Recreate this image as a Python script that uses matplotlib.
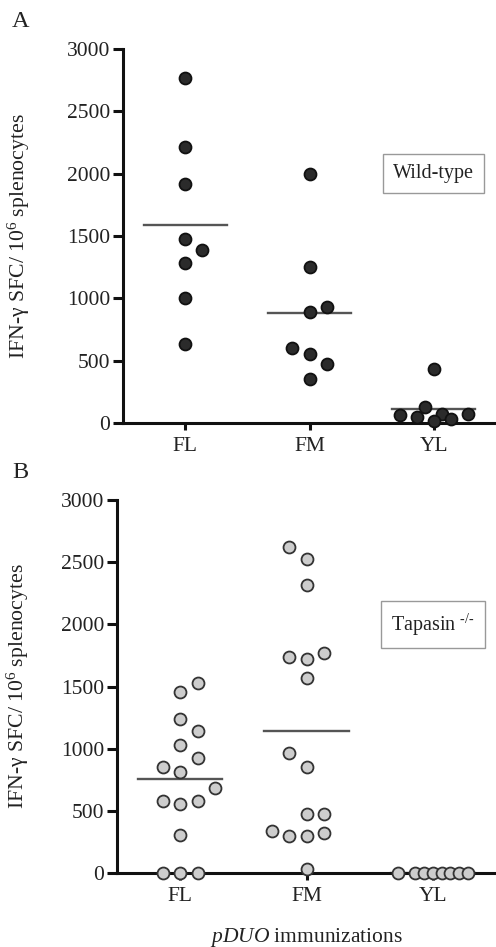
import numpy as np
import matplotlib
matplotlib.use('Agg')
import matplotlib.pyplot as plt

plt.rcParams['font.family'] = ['Liberation Serif', 'DejaVu Serif']
plt.rcParams['mathtext.fontset'] = 'custom'
plt.rcParams['mathtext.rm'] = 'Liberation Serif'
plt.rcParams['mathtext.it'] = 'Liberation Serif:italic'

##############
# data (SFC per 10^6 splenocytes)
##############

groups = ['FL', 'FM', 'YL']

wt_fl = [2770, 2210, 1914, 1476, 1387, 1280, 1000, 631]
wt_fm = [2000, 1248, 930, 888, 599, 553, 470, 355]
wt_yl = [436, 126, 72, 70, 64, 45, 32, 13]
wt_means = [1585, 885, 110]

tap_fl = [1527, 1460, 1237, 1146, 1028, 924, 852, 817, 683, 584, 581, 554, 308, 0, 0, 0]
tap_fm = [2620, 2523, 2319, 1768, 1741, 1722, 1572, 969, 857, 477, 477, 340, 321, 302, 302, 32]
tap_yl = [0, 0, 0, 0, 0, 0, 0, 0]
tap_means = [755, 1146, 0]

# horizontal scatter slots (column layout of the dot plot), same order as values
wt_slots = [[0, 0, 0, 0, 2, 0, 0, 0],
            [0, 0, 2, 0, -2, 0, 2, 0],
            [0, -1, 1, 4, -4, -2, 2, 0]]
tap_slots = [[2, 0, 0, 2, 0, 2, -2, 0, 4, -2, 2, 0, 0, -2, 0, 2],
             [-2, 0, 0, 2, -2, 0, 0, -2, 0, 0, 2, -4, 2, -2, 0, 0],
             [-4, -2, -1, 0, 1, 2, 3, 4]]

SLOT = 0.069
HALF = 0.335
FS = 15.5

##############
##############

def dot_panel(fig, rect, series, slots, means, face, edge, boxtext):
    ax = fig.add_axes(rect)
    for i, (vals, sl) in enumerate(zip(series, slots)):
        xs = (i + 1) + np.array(sl) * SLOT
        ax.plot(xs, vals, 'o', ms=8.6, mfc=face, mec=edge, mew=1.3,
                clip_on=False, zorder=3)
        ax.plot([i + 1 - HALF, i + 1 + HALF], [means[i], means[i]],
                color='#555555', lw=1.7, zorder=2, clip_on=False)

    ax.set_xlim(0.5, 3.5)
    ax.set_ylim(0, 3000)
    ax.set_yticks(np.arange(0, 3001, 500))
    ax.set_xticks([1, 2, 3])
    ax.set_xticklabels(groups)
    for s in ['top', 'right']:
        ax.spines[s].set_visible(False)
    for s in ['left', 'bottom']:
        ax.spines[s].set_linewidth(2.2)
        ax.spines[s].set_color('#111111')
    ax.tick_params(axis='y', length=7, width=2.2, pad=2, labelsize=FS,
                   colors='#111111', labelcolor='#222222')
    ax.tick_params(axis='x', length=5, width=2.2, pad=5, labelsize=FS,
                   colors='#111111', labelcolor='#222222')
    ax.set_ylabel('IFN-$\\mathregular{\\gamma}$ SFC/ 10$^{\\mathregular{6}}$ splenocytes',
                  fontsize=15.7, color='#222222')
    ax.text(3.0, 2000, boxtext, ha='center', va='center', fontsize=14.5, color='#222222',
            bbox=dict(boxstyle='square,pad=0.5', fc='white', ec='#999999', lw=1.0))
    return ax


figure = plt.figure(figsize=(4.96, 9.47), dpi=100)

axA = dot_panel(figure, [123 / 496, 1 - 423 / 947, 373 / 496, 374 / 947],
                [wt_fl, wt_fm, wt_yl], wt_slots, wt_means,
                '#2b2b2b', '#111111', 'Wild-type')
axA.yaxis.set_label_coords(-0.245, 0.5)

axB = dot_panel(figure, [117 / 496, 1 - 873.3 / 947, 379 / 496, 373.3 / 947],
                [tap_fl, tap_fm, tap_yl], tap_slots, tap_means,
                '#cdcdcd', '#333333', 'Tapasin $^{\\text{-/-}}$')
axB.yaxis.set_label_coords(-0.226, 0.5)
axB.set_xlabel('$\\it{pDUO}$ immunizations', fontsize=FS, color='#222222')
axB.xaxis.set_label_coords(0.5, -0.14)

figure.text(12 / 496, 1 - 11 / 947, 'A', ha='left', va='top', fontsize=17.5, color='#222222')
figure.text(12 / 496, 1 - 462 / 947, 'B', ha='left', va='top', fontsize=17.5, color='#222222')

figure.savefig('out.png', dpi=100)
plt.close(figure)
